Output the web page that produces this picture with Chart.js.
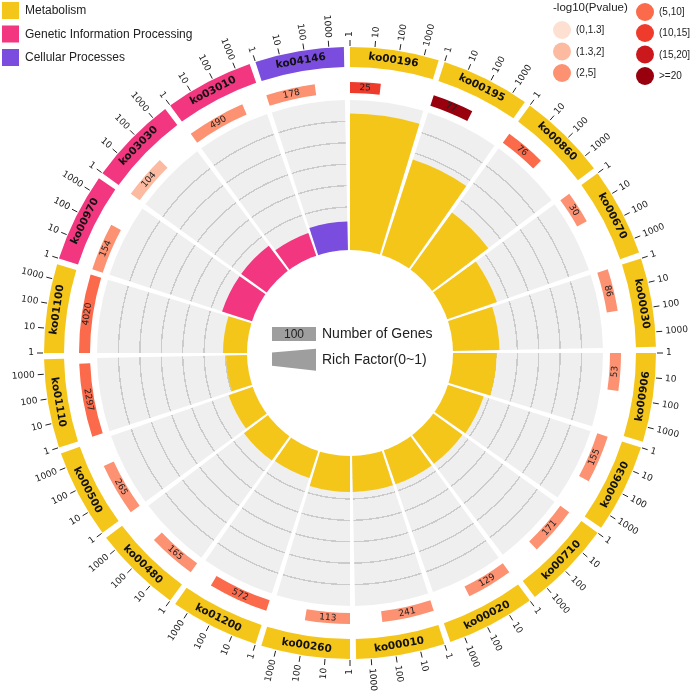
<!DOCTYPE html>
<html>
<head>
<meta charset="utf-8">
<script src="https://cdn.jsdelivr.net/npm/chart.js@4.4.1/dist/chart.umd.min.js"></script>
<style>
  html, body { margin: 0; padding: 0; background: #fff; }
  #wrap { position: relative; width: 692px; height: 695px; overflow: hidden; }
  #polarBox { position: absolute; left: 97px; top: 100px; width: 506px; height: 506px; }
  #ringBox { position: absolute; left: 0; top: 0; width: 692px; height: 695px; }
</style>
</head>
<body>
<div id="wrap">
  <div id="polarBox"><canvas id="polar"></canvas></div>
  <div id="ringBox"><canvas id="ring"></canvas></div>
</div>
<script>
// clockwise from 12 o'clock
const pathways = ['ko00196', 'ko00195', 'ko00860', 'ko00670', 'ko00030', 'ko00906', 'ko00630',
  'ko00710', 'ko00020', 'ko00010', 'ko00260', 'ko01200', 'ko00480', 'ko00500', 'ko01110',
  'ko01100', 'ko00970', 'ko03030', 'ko03010', 'ko04146'];
const categories = ['Metabolism', 'Metabolism', 'Metabolism', 'Metabolism', 'Metabolism',
  'Metabolism', 'Metabolism', 'Metabolism', 'Metabolism', 'Metabolism', 'Metabolism',
  'Metabolism', 'Metabolism', 'Metabolism', 'Metabolism', 'Metabolism',
  'Genetic Information Processing', 'Genetic Information Processing',
  'Genetic Information Processing', 'Cellular Processes'];
const geneCounts = [25, 77, 76, 30, 86, 53, 155, 171, 129, 241, 113, 572, 165, 265, 2297, 4020, 154, 104, 490, 178];
const richFactor = [0.91, 0.67, 0.47, 0.35, 0.31, 0.29, 0.25, 0.24, 0.24, 0.24, 0.24, 0.19, 0.2, 0.17, 0.14, 0.16, 0.21, 0.21, 0.16, 0.19];
const negLog10P = [12, 22, 7, 3, 3, 3, 3, 3, 3, 3, 3, 7, 3, 3, 7, 7, 3, 1.6, 3, 3];
const tickValues = [1, 10, 100, 1000];
const gridValues = [1 / 7, 2 / 7, 3 / 7, 4 / 7, 5 / 7, 6 / 7];

const categoryNames = ['Metabolism', 'Genetic Information Processing', 'Cellular Processes'];
const categoryColors = {
  'Metabolism': '#F5C61A',
  'Genetic Information Processing': '#F2367F',
  'Cellular Processes': '#7B4DDE'
};
const pLabels = ['(0,1.3]', '(1.3,2]', '(2,5]', '(5,10]', '(10,15]', '(15,20]', '>=20'];
const pUpper = [1.3, 2, 5, 10, 15, 20, Infinity];
const pColors = ['#FEE0D2', '#FCBBA1', '#FC9272', '#FB6A4A', '#EF3B2C', '#CB181D', '#99000D'];

const SECTOR = 16.85, GAP = 1.15;   // degrees
const CLEAR = 'rgba(0,0,0,0)';

function pColor(v) {
  for (let i = 0; i < pUpper.length; i++) if (v <= pUpper[i]) return pColors[i];
  return pColors[pColors.length - 1];
}

// ---------- inner track: rich factor ----------
const rfData = [], bgData = [], rfColors = [];
pathways.forEach((p, i) => {
  rfData.push(richFactor[i], 0);
  bgData.push(1, 0);
  rfColors.push(categoryColors[categories[i]], CLEAR);
});

let gridGrad = null;
function gridFill(chart) {
  const s = chart.scales.r;
  if (!s || !s.drawingArea) return '#EFEFEF';
  if (gridGrad) return gridGrad;
  const R = s.drawingArea;
  const g = chart.ctx.createRadialGradient(s.xCenter, s.yCenter, 0, s.xCenter, s.yCenter, R);
  const w = 0.7 / R;
  g.addColorStop(0, '#EFEFEF');
  gridValues.forEach(v => {
    const f = s.getDistanceFromCenterForValue(v) / R;
    g.addColorStop(f - w, '#EFEFEF');
    g.addColorStop(f - w, '#CBCBCB');
    g.addColorStop(f + w, '#CBCBCB');
    g.addColorStop(f + w, '#EFEFEF');
  });
  g.addColorStop(1, '#EFEFEF');
  gridGrad = g;
  return g;
}

const holePlugin = {
  id: 'hole',
  afterDatasetsDraw(chart) {
    const s = chart.scales.r;
    const ctx = chart.ctx;
    ctx.save();
    ctx.beginPath();
    ctx.arc(s.xCenter, s.yCenter, s.getDistanceFromCenterForValue(0), 0, Math.PI * 2);
    ctx.fillStyle = '#fff';
    ctx.fill();
    ctx.restore();
  }
};

new Chart(document.getElementById('polar'), {
  type: 'polarArea',
  data: {
    labels: pathways.flatMap(p => [p, '']),
    datasets: [{
      data: rfData,
      backgroundColor: rfColors,
      borderWidth: 0,
      angle: c => (c.dataIndex % 2 ? GAP : SECTOR)
    }, {
      data: bgData,
      backgroundColor: c => (c.dataIndex % 2 ? CLEAR : gridFill(c.chart)),
      borderWidth: 0,
      angle: c => (c.dataIndex % 2 ? GAP : SECTOR)
    }]
  },
  options: {
    responsive: true,
    maintainAspectRatio: false,
    animation: false,
    events: [],
    layout: { padding: 0 },
    plugins: { legend: { display: false }, tooltip: { enabled: false } },
    scales: {
      r: {
        min: -0.687,
        max: 1,
        startAngle: 0,
        ticks: { display: false },
        grid: { display: false },
        angleLines: { display: false },
        pointLabels: { display: false }
      }
    }
  },
  plugins: [holePlugin]
});

// ---------- outer tracks: pathway ring + gene count bars ----------
const span = Math.log10(Math.max(...geneCounts));
const gapSpan = span * GAP / SECTOR;
const sectorData = [], sectorColors = [], countData = [], countColors = [];
pathways.forEach((p, i) => {
  sectorData.push(span, gapSpan);
  sectorColors.push(categoryColors[categories[i]], CLEAR);
  const v = Math.log10(geneCounts[i]);
  countData.push(v, span - v, gapSpan);
  countColors.push(pColor(negLog10P[i]), CLEAR, CLEAR);
});

function norm(a) {
  const t = Math.PI * 2;
  return ((a % t) + t) % t;
}

function tangentText(ctx, text, cx, cy, r, a, font, color) {
  let rot = norm(a + Math.PI / 2);
  if (rot > Math.PI / 2 && rot < Math.PI * 1.5) rot += Math.PI;
  ctx.save();
  ctx.translate(cx + r * Math.cos(a), cy + r * Math.sin(a));
  ctx.rotate(rot);
  ctx.font = font;
  ctx.fillStyle = color;
  ctx.textAlign = 'center';
  ctx.textBaseline = 'middle';
  ctx.fillText(text, 0, 0);
  ctx.restore();
}

function radialText(ctx, text, cx, cy, r, a, font, color) {
  const th = norm(a + Math.PI / 2 + 1e-6);
  ctx.save();
  ctx.translate(cx + r * Math.cos(a), cy + r * Math.sin(a));
  if (th < Math.PI) {
    ctx.rotate(th - Math.PI / 2);
    ctx.textAlign = 'left';
  } else {
    ctx.rotate(th + Math.PI / 2);
    ctx.textAlign = 'right';
  }
  ctx.font = font;
  ctx.fillStyle = color;
  ctx.textBaseline = 'middle';
  ctx.fillText(text, 0, 0);
  ctx.restore();
}

const labelPlugin = {
  id: 'circosLabels',
  afterDatasetsDraw(chart) {
    const ctx = chart.ctx;
    const ring = chart.getDatasetMeta(0).data;
    const bars = chart.getDatasetMeta(2).data;

    pathways.forEach((p, i) => {
      const arc = ring[i * 2];
      const { x, y, startAngle, endAngle, innerRadius, outerRadius } = arc;
      // pathway id
      tangentText(ctx, p, x, y, (innerRadius + outerRadius) / 2, (startAngle + endAngle) / 2,
        'bold 10.5px "DejaVu Sans"', '#111');
      // log ticks
      tickValues.forEach(t => {
        const a = startAngle + (Math.log10(t) / span) * (endAngle - startAngle);
        ctx.save();
        ctx.strokeStyle = '#222';
        ctx.lineWidth = 1;
        ctx.beginPath();
        ctx.moveTo(x + (outerRadius + 1) * Math.cos(a), y + (outerRadius + 1) * Math.sin(a));
        ctx.lineTo(x + (outerRadius + 7) * Math.cos(a), y + (outerRadius + 7) * Math.sin(a));
        ctx.stroke();
        ctx.restore();
        radialText(ctx, String(t), x, y, outerRadius + 10, a, '9px "DejaVu Sans"', '#222');
      });
      // gene count label
      const b = bars[i * 3];
      tangentText(ctx, String(geneCounts[i]), b.x, b.y, (b.innerRadius + b.outerRadius) / 2,
        (b.startAngle + b.endAngle) / 2, '9px "DejaVu Sans"', '#222');
    });
  },
  afterDraw(chart) {
    const ctx = chart.ctx;
    ctx.save();
    // category legend
    categoryNames.forEach((n, i) => {
      const y = 2 + i * 23.5;
      ctx.fillStyle = categoryColors[n];
      ctx.fillRect(2, y, 17, 17);
      ctx.fillStyle = '#222';
      ctx.font = '12px "Liberation Sans"';
      ctx.textAlign = 'left';
      ctx.textBaseline = 'middle';
      ctx.fillText(n, 25, y + 9);
    });
    // p-value legend
    ctx.font = '11.5px "Liberation Sans"';
    ctx.fillStyle = '#222';
    ctx.textBaseline = 'middle';
    ctx.fillText('-log10(Pvalue)', 553, 8);
    const pos = [[562, 30], [562, 51.5], [562, 73], [645, 12], [645, 33], [645, 54.5], [645, 76]];
    pLabels.forEach((l, i) => {
      const [cx, cy] = pos[i];
      ctx.beginPath();
      ctx.arc(cx, cy, 9, 0, Math.PI * 2);
      ctx.fillStyle = pColors[i];
      ctx.fill();
      ctx.fillStyle = '#222';
      ctx.font = '10px "Liberation Sans"';
      ctx.fillText(l, cx + 14, cy + 0.5);
    });
    // center legend
    ctx.fillStyle = '#9E9E9E';
    ctx.fillRect(272, 327, 44, 14);
    ctx.beginPath();
    ctx.moveTo(272, 352.5);
    ctx.lineTo(316, 348.7);
    ctx.lineTo(316, 370.7);
    ctx.lineTo(272, 365.7);
    ctx.closePath();
    ctx.fill();
    ctx.fillStyle = '#222';
    ctx.font = '12px "Liberation Sans"';
    ctx.textAlign = 'center';
    ctx.fillText('100', 294, 334.5);
    ctx.textAlign = 'left';
    ctx.font = '14px "Liberation Sans"';
    ctx.fillText('Number of Genes', 322, 334.5);
    ctx.fillText('Rich Factor(0~1)', 322, 360);
    ctx.restore();
  }
};

new Chart(document.getElementById('ring'), {
  type: 'doughnut',
  data: {
    labels: pathways,
    datasets: [
      { data: sectorData, backgroundColor: sectorColors, borderWidth: 0, hoverOffset: 0, weight: 20 },
      { data: [1], backgroundColor: [CLEAR], borderWidth: 0, hoverOffset: 0, weight: 15 },
      { data: countData, backgroundColor: countColors, borderWidth: 0, hoverOffset: 0, weight: 11 }
    ]
  },
  options: {
    responsive: true,
    maintainAspectRatio: false,
    animation: false,
    events: [],
    cutout: 260,
    rotation: 0,
    circumference: 360,
    spacing: 0,
    layout: { padding: { left: 44, right: 36, top: 47, bottom: 36 } },
    plugins: { legend: { display: false }, tooltip: { enabled: false } }
  },
  plugins: [labelPlugin]
});
</script>
</body>
</html>
